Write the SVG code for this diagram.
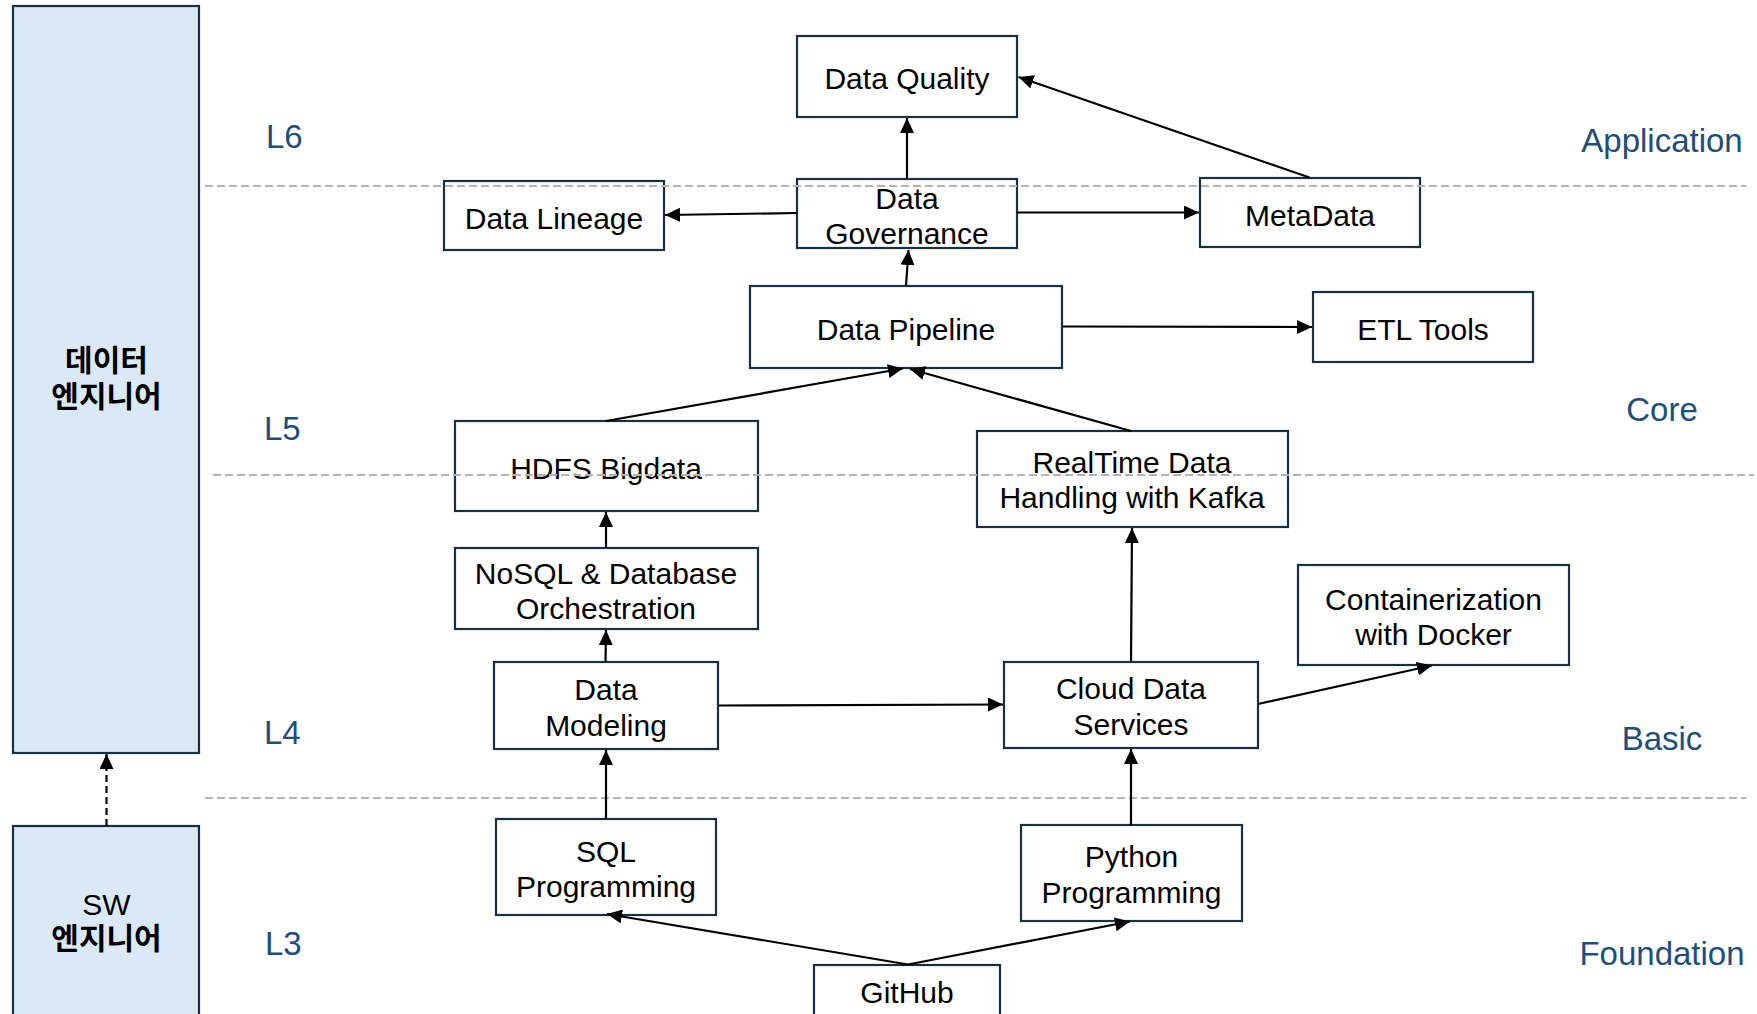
<svg xmlns="http://www.w3.org/2000/svg" width="1757" height="1014" viewBox="0 0 1757 1014">
<defs>
<marker id="arr" markerUnits="userSpaceOnUse" markerWidth="16" markerHeight="14" refX="15" refY="7" orient="auto">
<path d="M0,0 L15,7 L0,14 z" fill="#000"/>
</marker>
</defs>
<style>
.box{fill:#fff;stroke:#173042;stroke-width:2.2}
.role{fill:#dbe9f6;stroke:#173042;stroke-width:2.2}
.t{font-family:"Liberation Sans",Arial,sans-serif;font-size:30px;fill:#000;text-anchor:middle}
.kr{font-family:"Liberation Sans","Noto Sans CJK KR",sans-serif;font-size:30px;font-weight:bold;fill:#000;text-anchor:middle}
.lvl{font-family:"Liberation Sans",Arial,sans-serif;font-size:33px;fill:#1f4e79}
.cat{font-family:"Liberation Sans",Arial,sans-serif;font-size:33px;fill:#1f4e79;text-anchor:middle}
.sep{stroke:#b3b3b3;stroke-width:2;stroke-dasharray:8 4;fill:none}
.c{stroke:#000;stroke-width:2.2;fill:none;marker-end:url(#arr)}
.cd{stroke:#000;stroke-width:2.2;fill:none;stroke-dasharray:7 4;marker-end:url(#arr)}
</style>
<rect width="1757" height="1014" fill="#fff"/>

<g id="roles">
<g id="data-engineer">
<rect class="role" x="13" y="6" width="186" height="747"/>
<text class="kr" x="106.5" y="371">데이터</text>
<text class="kr" x="106.5" y="407">엔지니어</text>
</g>
<g id="sw-engineer">
<rect class="role" x="13" y="826" width="186" height="200"/>
<text class="t" x="106.5" y="915">SW</text>
<text class="kr" x="106.5" y="949">엔지니어</text>
</g>
</g>

<g id="levels">
<text class="lvl" x="266" y="148">L6</text>
<text class="lvl" x="264" y="440">L5</text>
<text class="lvl" x="264" y="744">L4</text>
<text class="lvl" x="265" y="955">L3</text>
<text class="cat" x="1662" y="152">Application</text>
<text class="cat" x="1662" y="421">Core</text>
<text class="cat" x="1662" y="750">Basic</text>
<text class="cat" x="1662" y="965">Foundation</text>
</g>

<g id="data-quality"><rect class="box" x="797" y="36" width="220" height="81"/><text class="t" x="907" y="89">Data Quality</text></g>
<g id="data-governance"><rect class="box" x="797" y="179" width="220" height="69"/><text class="t" x="907" y="208.5">Data</text><text class="t" x="907" y="243.5">Governance</text></g>
<g id="data-lineage"><rect class="box" x="444" y="181" width="220" height="69"/><text class="t" x="554" y="228.5">Data Lineage</text></g>
<g id="metadata"><rect class="box" x="1200" y="178" width="220" height="69"/><text class="t" x="1310" y="226">MetaData</text></g>
<g id="data-pipeline"><rect class="box" x="750" y="286" width="312" height="82"/><text class="t" x="906" y="339.5">Data Pipeline</text></g>
<g id="etl-tools"><rect class="box" x="1313" y="292" width="220" height="70"/><text class="t" x="1423" y="339.5">ETL Tools</text></g>
<g id="hdfs"><rect class="box" x="455" y="421" width="303" height="90"/><text class="t" x="606" y="478.5">HDFS Bigdata</text></g>
<g id="realtime"><rect class="box" x="977" y="431" width="311" height="96"/><text class="t" x="1132" y="473">RealTime Data</text><text class="t" x="1132" y="508">Handling with Kafka</text></g>
<g id="nosql"><rect class="box" x="455" y="548" width="303" height="81"/><text class="t" x="606" y="583.5">NoSQL &amp; Database</text><text class="t" x="606" y="618.5">Orchestration</text></g>
<g id="docker"><rect class="box" x="1298" y="565" width="271" height="100"/><text class="t" x="1433.5" y="610">Containerization</text><text class="t" x="1433.5" y="645">with Docker</text></g>
<g id="data-modeling"><rect class="box" x="494" y="662" width="224" height="87"/><text class="t" x="606" y="700">Data</text><text class="t" x="606" y="735.5">Modeling</text></g>
<g id="cloud"><rect class="box" x="1004" y="662" width="254" height="86"/><text class="t" x="1131" y="699">Cloud Data</text><text class="t" x="1131" y="734.5">Services</text></g>
<g id="sql"><rect class="box" x="496" y="819" width="220" height="96"/><text class="t" x="606" y="862">SQL</text><text class="t" x="606" y="897">Programming</text></g>
<g id="python"><rect class="box" x="1021" y="825" width="221" height="96"/><text class="t" x="1131.5" y="867">Python</text><text class="t" x="1131.5" y="902.5">Programming</text></g>
<g id="github"><rect class="box" x="814" y="965" width="186" height="80"/><text class="t" x="907" y="1003">GitHub</text></g>

<g id="separators">
<line class="sep" x1="205" y1="186" x2="1746" y2="186"/>
<line class="sep" x1="213" y1="475" x2="1754" y2="475"/>
<line class="sep" x1="205" y1="798" x2="1746" y2="798"/>
</g>

<g id="connectors">
<line class="cd" x1="106.5" y1="826" x2="106.5" y2="754"/>
<line class="c" x1="907" y1="179" x2="907" y2="118"/>
<line class="c" x1="1309.5" y1="177.5" x2="1018.5" y2="77"/>
<line class="c" x1="797" y1="213" x2="665" y2="215"/>
<line class="c" x1="1017" y1="212.5" x2="1199" y2="212.5"/>
<line class="c" x1="906" y1="286" x2="908.5" y2="250"/>
<line class="c" x1="1062" y1="326.5" x2="1312" y2="327"/>
<line class="c" x1="606" y1="421" x2="903" y2="368.5"/>
<line class="c" x1="1131" y1="431" x2="910" y2="369"/>
<line class="c" x1="606" y1="548" x2="606" y2="512"/>
<line class="c" x1="605.5" y1="662" x2="606" y2="630"/>
<line class="c" x1="606" y1="819" x2="606" y2="750"/>
<line class="c" x1="718" y1="705.5" x2="1003" y2="704.5"/>
<line class="c" x1="1131" y1="662" x2="1132" y2="528"/>
<line class="c" x1="1258" y1="704" x2="1432" y2="665.5"/>
<line class="c" x1="1131" y1="825" x2="1131" y2="749"/>
<line class="c" x1="908" y1="964.5" x2="607" y2="914"/>
<line class="c" x1="908" y1="964.5" x2="1130" y2="921.5"/>
</g>
</svg>
